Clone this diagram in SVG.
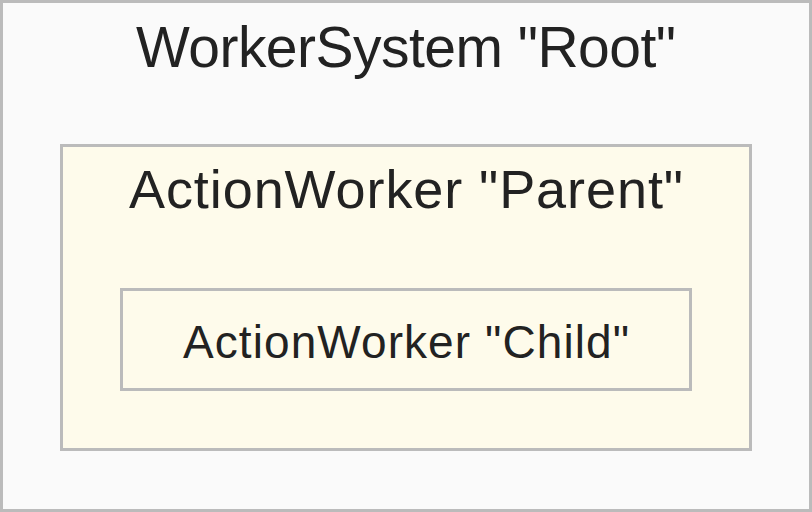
<svg xmlns="http://www.w3.org/2000/svg" width="812" height="512" viewBox="0 0 812 512">
<style>
.box{stroke:#bbbbbb;stroke-width:3}
.outer{fill:#fafafa}
.inner{fill:#fefbeb}
.lbl{font-family:"Liberation Sans",Arial,sans-serif;fill:#222222;text-anchor:middle}
</style>
<g id="root">
<rect class="box outer" x="1.5" y="1.5" width="809" height="509"/>
<text class="lbl" x="406" y="66.5" font-size="57" textLength="540" lengthAdjust="spacing">WorkerSystem "Root"</text>
</g>
<g id="parent">
<rect class="box inner" x="61.5" y="145.5" width="689" height="304"/>
<text class="lbl" x="406" y="208.3" font-size="54" textLength="554" lengthAdjust="spacing">ActionWorker "Parent"</text>
</g>
<g id="child">
<rect class="box inner" x="121.5" y="289.5" width="569" height="100"/>
<text class="lbl" x="406" y="357.7" font-size="46" textLength="446" lengthAdjust="spacing">ActionWorker "Child"</text>
</g>
<g id="connectors"></g>
</svg>
